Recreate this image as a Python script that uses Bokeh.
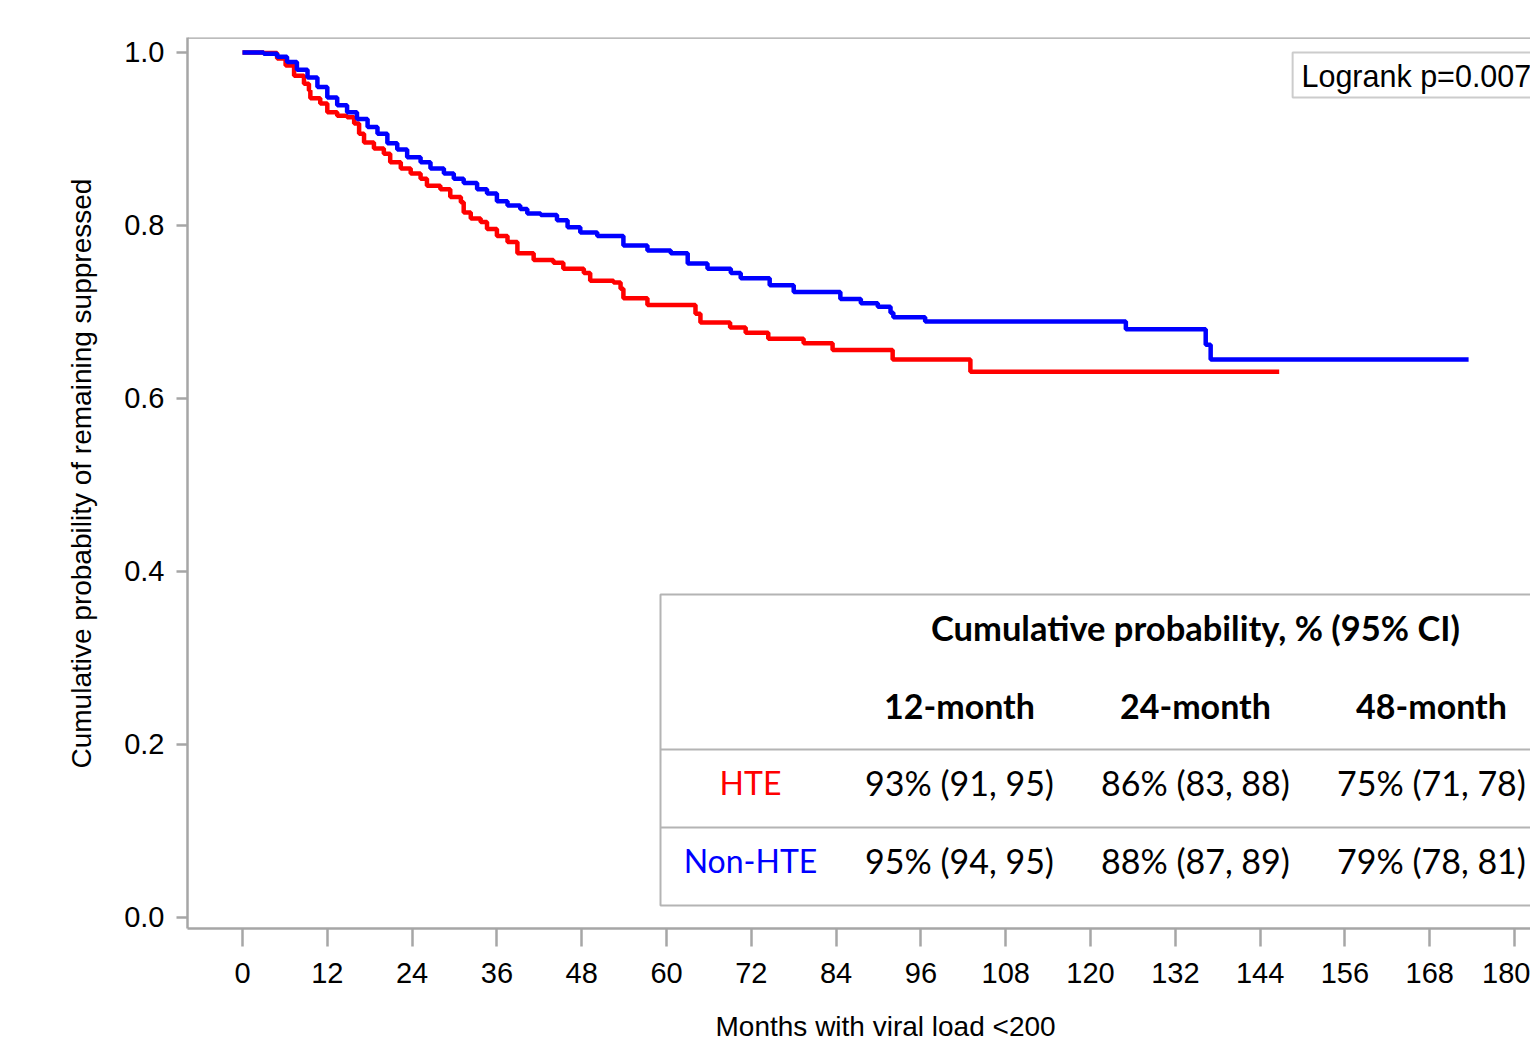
from bokeh.plotting import figure
from bokeh.models import Range1d, FixedTicker, Span, Title, LinearAxis
from bokeh.core.properties import value
from bokeh.embed import file_html
from bokeh.resources import INLINE

# ---- data ----
hte_months = [0, 3.0, 4.9, 6.1, 7.3, 8.7, 9.4, 9.6, 11.0, 12.0, 13.4, 14.8, 15.8, 16.5,
              17.2, 18.6, 20.0, 20.9, 22.4, 23.8, 25.2, 26.1, 28.0, 29.4, 30.9, 31.3,
              32.3, 33.7, 34.6, 36.0, 37.5, 38.9, 41.2, 44.0, 45.4, 48.3, 49.2, 52.5,
              53.5, 53.9, 57.3, 64.1, 64.8, 69.0, 71.2, 74.4, 79.4, 83.5, 92.0, 103.0,
              146.7]
hte_surv = [1.0, 0.9995, 0.993, 0.985, 0.973, 0.964, 0.956, 0.947, 0.941, 0.931, 0.927,
            0.925, 0.918, 0.906, 0.896, 0.889, 0.883, 0.873, 0.866, 0.860, 0.854, 0.846,
            0.842, 0.833, 0.827, 0.815, 0.808, 0.804, 0.796, 0.788, 0.781, 0.768, 0.760,
            0.757, 0.750, 0.745, 0.736, 0.734, 0.727, 0.716, 0.708, 0.698, 0.688, 0.682,
            0.676, 0.669, 0.664, 0.656, 0.645, 0.631, 0.631]

nonhte_months = [0, 3.0, 4.9, 6.3, 7.7, 9.2, 10.6, 12.0, 13.4, 14.8, 16.2, 17.7, 19.1,
                 20.5, 21.9, 23.3, 25.2, 26.6, 28.5, 29.9, 31.3, 33.2, 34.6, 36.0, 37.5,
                 39.3, 40.3, 42.2, 44.5, 46.0, 47.8, 50.2, 53.9, 57.3, 60.6, 63.0, 65.8,
                 69.1, 70.5, 74.6, 78.0, 84.6, 87.5, 89.9, 91.7, 92.1, 96.6, 125.0, 136.3,
                 137.0, 173.5]
nonhte_surv = [1.0, 0.9985, 0.995, 0.989, 0.980, 0.971, 0.960, 0.948, 0.939, 0.931, 0.923,
               0.914, 0.906, 0.895, 0.888, 0.879, 0.873, 0.866, 0.860, 0.854, 0.849, 0.842,
               0.837, 0.828, 0.823, 0.819, 0.814, 0.812, 0.806, 0.798, 0.792, 0.788, 0.777,
               0.771, 0.768, 0.756, 0.750, 0.745, 0.739, 0.731, 0.723, 0.715, 0.710, 0.706,
               0.699, 0.694, 0.689, 0.680, 0.662, 0.645, 0.645]

x_ticks = list(range(0, 181, 12))
y_ticks = [0.0, 0.2, 0.4, 0.6, 0.8, 1.0]
y_tick_labels = ["0.0", "0.2", "0.4", "0.6", "0.8", "1.0"]

logrank_text = "Logrank p=0.007"
table_title = "Cumulative probability, % (95% CI)"
col_headers = ["12-month", "24-month", "48-month"]
row_labels = ["HTE", "Non-HTE"]
hte_cells = ["93% (91, 95)", "86% (83, 88)", "75% (71, 78)"]
nonhte_cells = ["95% (94, 95)", "88% (87, 89)", "79% (78, 81)"]

x_label = "Months with viral load <200"
y_label = "Cumulative probability of remaining suppressed"

RED = "#ff0000"
BLUE = "#0000ff"
GRAY = "#a6a6a6"
LABEL_FONT = "Liberation Sans"
TABLE_FONT = "Lato"

p = figure(width=1530, height=1045, output_backend="svg", toolbar_location=None,
           x_range=Range1d(-7.783, 182.26), y_range=Range1d(-0.01272, 1.01734),
           min_border_left=187, min_border_right=0, min_border_top=37, min_border_bottom=117)
p.background_fill_color = "white"
p.border_fill_color = "white"
p.outline_line_color = None
p.grid.visible = False

for ax in (p.xaxis, p.yaxis):
    ax.axis_line_color = GRAY
    ax.axis_line_width = 2.5
    ax.major_tick_line_color = GRAY
    ax.major_tick_line_width = 2.5
    ax.minor_tick_line_color = None
    ax.major_tick_in = 0
    ax.major_label_text_font = LABEL_FONT
    ax.major_label_text_font_size = "29px"
    ax.major_label_text_color = "black"

p.xaxis.ticker = FixedTicker(ticks=x_ticks)
p.xaxis.major_tick_out = 18
p.xaxis.major_label_standoff = 16
p.yaxis.ticker = FixedTicker(ticks=y_ticks)
p.yaxis.major_label_overrides = {t: s for t, s in zip(y_ticks, y_tick_labels)}
p.yaxis.major_tick_out = 11
p.yaxis.major_label_standoff = 12

# x-axis title: placed as the single label of a bare second axis (so it can sit off-centre)
title_axis = LinearAxis(ticker=FixedTicker(ticks=[91]), major_label_overrides={91: x_label},
                        axis_line_color=None, major_tick_line_color=None,
                        minor_tick_line_color=None, major_tick_in=0, major_tick_out=0,
                        major_label_standoff=25, major_label_text_font=LABEL_FONT,
                        major_label_text_font_size="28px", major_label_text_color="black")
p.add_layout(title_axis, "below")

# y-axis title
p.add_layout(Title(text=y_label, align="left", offset=160, standoff=50,
                   text_font=LABEL_FONT, text_font_size="28px", text_font_style="normal",
                   text_color="black"), "left")

# top frame line
p.add_layout(Span(location=1.01734, dimension="width", line_color=GRAY, line_width=2.5))

# curves
p.step(hte_months, hte_surv, mode="after", line_color=RED, line_width=4.5)
p.step(nonhte_months, nonhte_surv, mode="after", line_color=BLUE, line_width=4.5)

# logrank box
p.quad(left=[148.6], right=[200], bottom=[0.948], top=[1.0], fill_color="white",
       line_color="#cccccc", line_width=2)
p.text(x=[149.85], y=[0.9734], text=[logrank_text], text_font=value(LABEL_FONT),
       text_font_size="30.5px", text_baseline="middle", text_align="left", text_color="black")

# table box
p.quad(left=[59.15], right=[200], bottom=[0.01387], top=[0.3734], fill_color="white",
       line_color="#b4b4b4", line_width=2)
p.segment(x0=[59.15, 59.15], x1=[200, 200], y0=[0.1942, 0.1040], y1=[0.1942, 0.1040],
          line_color="#b4b4b4", line_width=2)

col_x = [101.46, 134.85, 168.25]
p.text(x=[134.85], y=[0.3353], text=[table_title], text_font=value(TABLE_FONT),
       text_font_style="bold", text_font_size="34.5px", text_align="center",
       text_baseline="middle", text_color="black")
p.text(x=col_x, y=[0.2451] * 3, text=col_headers, text_font=value(TABLE_FONT),
       text_font_style="bold", text_font_size="34px", text_align="center",
       text_baseline="middle", text_color="black")
p.text(x=[71.88, 71.88], y=[0.1561, 0.0659], text=row_labels, text_font=value(TABLE_FONT),
       text_font_size="32px", text_align="center", text_baseline="middle",
       text_color=[RED, BLUE])
p.text(x=col_x, y=[0.1561] * 3, text=hte_cells, text_font=value(TABLE_FONT),
       text_font_size="34px", text_align="center", text_baseline="middle", text_color="black")
p.text(x=col_x, y=[0.0659] * 3, text=nonhte_cells, text_font=value(TABLE_FONT),
       text_font_size="34px", text_align="center", text_baseline="middle", text_color="black")

open("out.html", "w").write(file_html(p, INLINE))
